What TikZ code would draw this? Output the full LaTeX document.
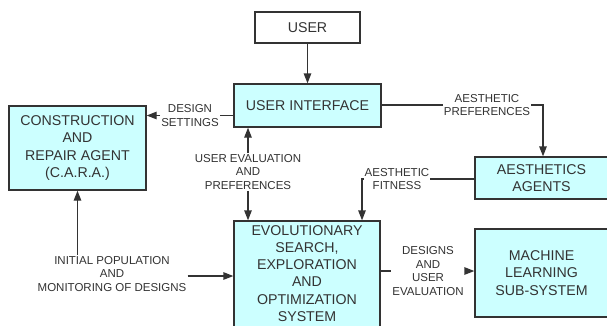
\documentclass[tikz,border=0pt]{standalone}
\usepackage{fontspec}
\setmainfont{Liberation Sans}
\usetikzlibrary{arrows.meta}
\definecolor{boxfill}{HTML}{CCFFFF}
\definecolor{ink}{HTML}{333333}
\begin{document}
\begin{tikzpicture}[x=1pt,y=-1pt,
  boxtext/.style={align=center,text=ink,font=\fontsize{14.2}{17.5}\selectfont,inner sep=0pt},
  box/.style={boxtext,draw=ink,line width=1.3pt,fill=boxfill},
  lab/.style={fill=white,align=center,text=ink,inner sep=1pt,
    font=\fontsize{11.5}{13.6}\selectfont},
  conn/.style={draw=ink,line width=1.3pt},
  arr/.style={conn,-{Triangle[length=10pt,width=7.5pt]}}]
\useasboundingbox (0,0) rectangle (607,325);
% boxes
\node[box,fill=white,minimum width=105,minimum height=31] (user) at (307.5,27.5) {USER};
\node[box,minimum width=147,minimum height=43] (ui) at (307.5,105.5) {USER INTERFACE};
\node[box,minimum width=137,minimum height=84] (cara) at (77.5,148) {CONSTRUCTION\\AND\\REPAIR AGENT\\(C.A.R.A.)};
\node[box,minimum width=133,minimum height=42] (aes) at (541.5,178) {AESTHETICS\\AGENTS};
\node[box,minimum width=146,minimum height=109] (evo) at (307,275.5) {};
\node[boxtext,font=\fontsize{14.2}{17.2}\selectfont] (evotxt) at (307,273.5) {EVOLUTIONARY\\SEARCH,\\EXPLORATION\\AND\\OPTIMIZATION\\SYSTEM};
\node[box,minimum width=133,minimum height=88] (ml) at (541.5,273) {MACHINE\\LEARNING\\SUB-SYSTEM};
% labels
\node[lab] (ds) at (190,115.5) {DESIGN\\SETTINGS};
\node[lab] (ue) at (248,172) {USER EVALUATION\\AND\\PREFERENCES};
\node[lab] (ap) at (487,105) {AESTHETIC\\PREFERENCES};
\node[lab] (af) at (397,179) {AESTHETIC\\FITNESS};
\node[lab] (du) at (428,271) {DESIGNS\\AND\\USER\\EVALUATION};
\node[lab] (ip) at (112,274) {INITIAL POPULATION\\AND\\MONITORING OF DESIGNS};
\coordinate (afc) at (362,179);
\coordinate (ipe) at ([yshift=-2pt]ip.east);
% connectors
\draw[arr] (user) -- (ui);
\draw[conn] (ui.west |- ds.east) -- (ds.east);
\draw[arr] (ds.west) -- (cara.east |- ds.west);
\draw[arr] (ue.north) -- (ue.north |- ui.south);
\draw[arr] (ue.south) -- (ue.south |- evo.north);
\draw[conn] (ui.east |- ap.west) -- (ap.west);
\draw[arr] (ap.east) -| ([xshift=1.5pt]aes.north);
\draw[conn] (aes.west |- af.east) -- (af.east);
\draw[arr] (af.west) -- (afc) -- (afc |- evo.north);
\draw[conn] (evo.east |- du.west) -- (du.west);
\draw[arr] (du.east) -- (ml.west |- du.east);
\draw[arr] (ip.north -| cara.south) -- (cara.south);
\draw[arr] (ipe) -- (evo.west |- ipe);
\end{tikzpicture}
\end{document}
